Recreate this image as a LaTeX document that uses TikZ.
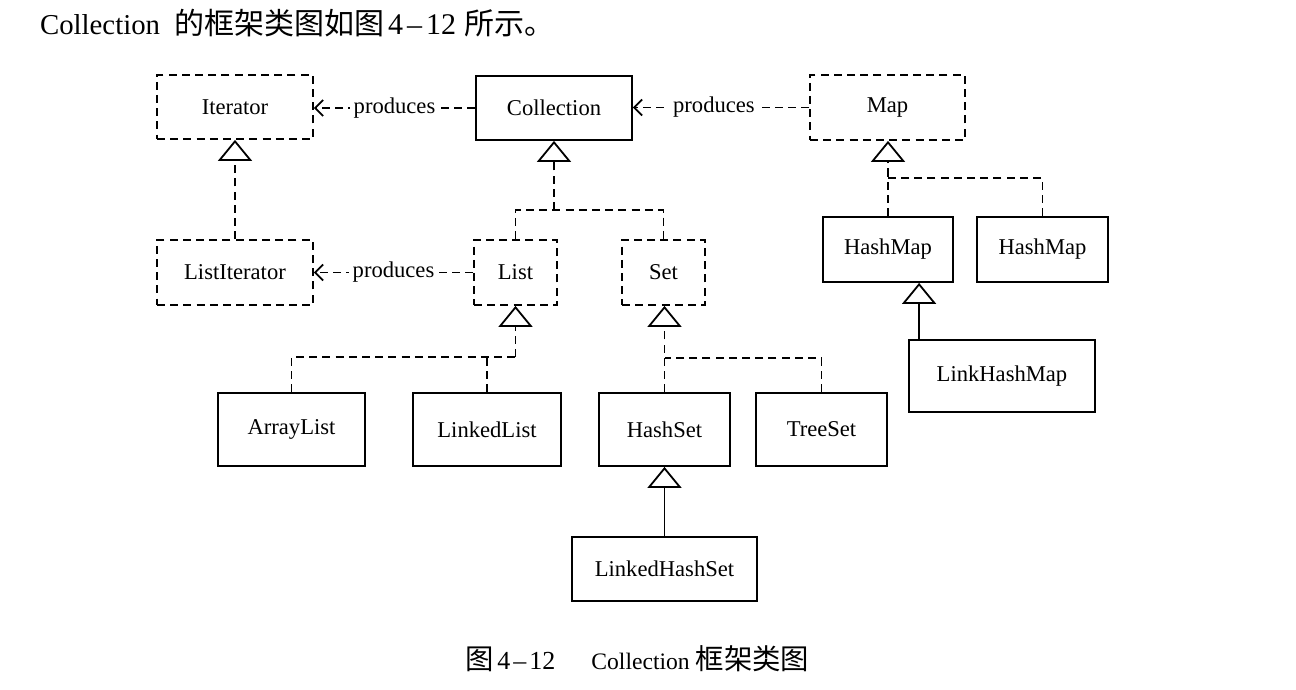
\documentclass[tikz,border=0pt]{standalone}
\usepackage{fontspec}
\setmainfont{Liberation Serif}
\newfontfamily\cjk{Noto Sans CJK SC}
\usetikzlibrary{arrows.meta,calc}
\newcommand{\tcjk}[1]{{\cjk\fontsize{15}{18}\selectfont #1}}
\newcommand{\ccjk}[1]{{\cjk\fontsize{14.2}{17}\selectfont #1}}
\begin{document}
\begin{tikzpicture}[x=0.5pt,y=-0.5pt,
 every node/.style={font=\fontsize{11.3}{13}\selectfont},
 sbox/.style={draw,line width=0.9pt,inner sep=0pt},
 dbox/.style={sbox,dash pattern=on 4pt off 2.6pt},
 dline/.style={line width=0.9pt,dash pattern=on 4pt off 2.6pt},
 sline/.style={line width=0.9pt},
 inh/.style={-{Triangle[open,width=17pt,length=10.5pt,line width=0.9pt]}},
 prod/.style={dline,-{Straight Barb[length=4pt,width=8pt,line width=0.9pt]}},
 lab/.style={fill=white,inner sep=2pt}
]
\useasboundingbox (0,0) rectangle (1296,690);

% text
\node[anchor=west,font=\fontsize{14.4}{17}\selectfont] (title) at (33,23) {Collection\hspace{7pt}\tcjk{的框架类图如图}\hspace{2pt}{\fontsize{15}{17}\selectfont 4\kern2pt–\kern2pt12}\hspace{4pt}\tcjk{所示。}};
\node[anchor=west,font=\fontsize{11.8}{14}\selectfont] (cap) at (458,659) {\ccjk{图}\,{\fontsize{13}{15}\selectfont 4\kern1.5pt–\kern1.5pt12}\hspace{18pt}Collection \ccjk{框架类图}};

% boxes
\node[dbox,minimum width=78pt,minimum height=32pt] (iter) at (235,107) {Iterator};
\node[sbox,minimum width=78pt,minimum height=32pt] (coll) at (554,108) {Collection};
\node[dbox,minimum width=77.5pt,minimum height=32.5pt] (map) at (887.5,107.5) {Map};
\node[dbox,minimum width=78pt,minimum height=32.5pt] (liter) at (235,272.5) {ListIterator};
\node[dbox,minimum width=41.5pt,minimum height=32.5pt] (list) at (515.5,272.5) {List};
\node[dbox,minimum width=41.5pt,minimum height=32.5pt] (set) at (663.5,272.5) {Set};
\node[sbox,minimum width=65pt,minimum height=32.5pt] (hm1) at (888,249.5) {HashMap};
\node[sbox,minimum width=65.5pt,minimum height=32.5pt] (hm2) at (1042.5,249.5) {HashMap};
\node[sbox,minimum width=93pt,minimum height=36pt] (lhm) at (1002,376) {LinkHashMap};
\node[sbox,minimum width=73.5pt,minimum height=36.5pt] (alist) at (291.5,429.5) {ArrayList};
\node[sbox,minimum width=74pt,minimum height=36.5pt] (llist) at (487,429.5) {LinkedList};
\node[sbox,minimum width=65.5pt,minimum height=36.5pt] (hset) at (664.5,429.5) {HashSet};
\node[sbox,minimum width=65.5pt,minimum height=36.5pt] (tset) at (821.5,429.5) {TreeSet};
\node[sbox,minimum width=92.5pt,minimum height=32pt] (lhset) at (664.5,569) {LinkedHashSet};

% produces
\draw[prod] (coll.west) -- node[lab]{produces} (iter.east |- coll.west);
\draw[prod] (list.west) -- node[lab]{produces} (liter.east |- list.west);
\draw[prod] (map.west) -- node[lab,pos=0.54]{produces} (coll.east |- map.west);

% Iterator
\draw[dline,inh] (liter.north) -- (iter.south);

% Collection tree
\coordinate (cj) at (554,210);
\draw[dline] (list.north) |- (cj) -| (set.north);
\draw[dline,inh] (cj) -- (coll.south);

% List tree
\coordinate (lj) at (515.5,357);
\draw[dline] (alist.north) |- (lj);
\draw[dline,inh] (lj) -- (list.south);
\draw[dline] (llist.north) -- (llist.north |- lj);

% Set tree
\coordinate (sj) at (664.5,358);
\draw[dline,inh] (hset.north) -- (hset.north |- set.south);
\draw[dline] (tset.north) |- (sj);
\draw[sline,inh] (lhset.north) -- (hset.south);

% Map tree
\coordinate (mj) at (888,178);
\draw[dline,inh] (hm1.north) -- (hm1.north |- map.south);
\draw[dline] (hm2.north) |- (mj);
\draw[sline,inh] ([xshift=5.5pt]lhm.north west) -- ([xshift=5.5pt]lhm.north west |- hm1.south);
\end{tikzpicture}
\end{document}
